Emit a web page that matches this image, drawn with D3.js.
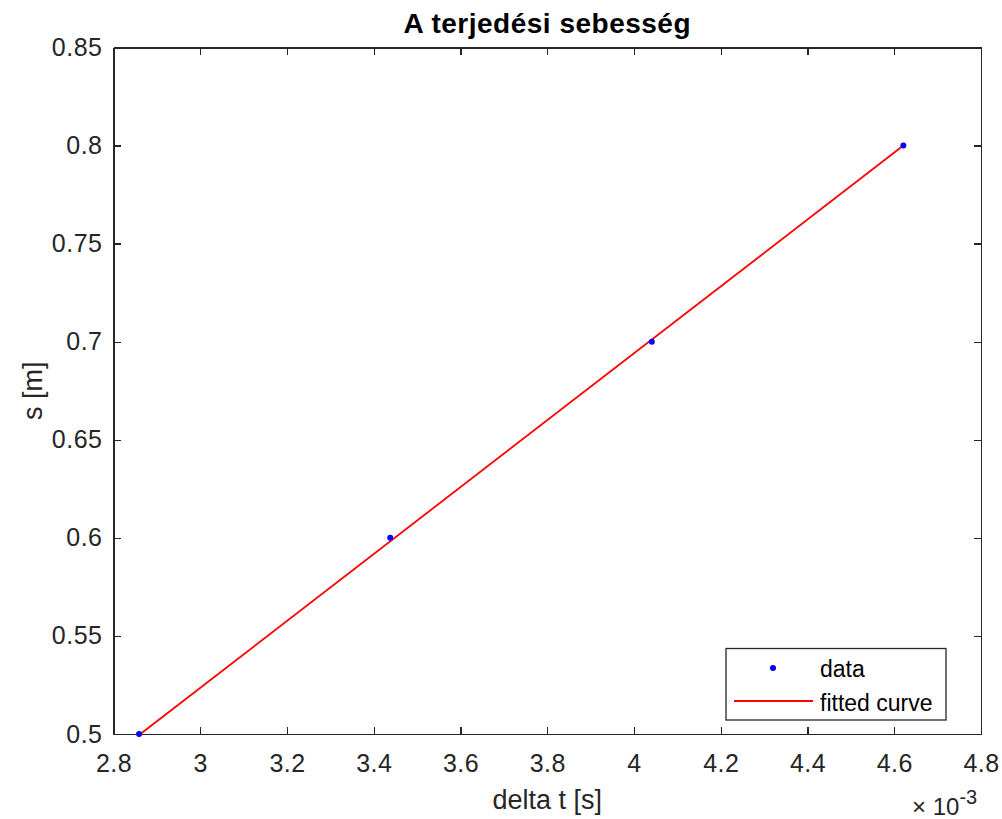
<!DOCTYPE html>
<html lang="hu">
<head>
<meta charset="utf-8">
<title>A terjedési sebesség</title>
<script src="https://cdn.jsdelivr.net/npm/d3@7"></script>
<style>
  body { margin: 0; background: #fff; }
  svg text { font-family: "Liberation Sans", Arial, sans-serif; fill: #262626; }
  .axis path, .axis line { stroke: #262626; shape-rendering: crispEdges; }
  .axis text { font-size: 25px; letter-spacing: 0.5px; }
</style>
</head>
<body>
<script>
// data (delta t in units of 1e-3 s)
var dataT = [2.859, 3.438, 4.041, 4.621];
var dataS = [0.5, 0.6, 0.7, 0.8];
// fitted line end points
var fitT = [2.859, 4.621];
var fitS = [0.4995, 0.8];

var xTicks = [2.8, 3, 3.2, 3.4, 3.6, 3.8, 4, 4.2, 4.4, 4.6, 4.8];
var yTicks = [0.5, 0.55, 0.6, 0.65, 0.7, 0.75, 0.8, 0.85];

var w = 1002, h = 819;
var m = {left: 113.5, right: 981, top: 47.5, bottom: 734};

var svg = d3.select("body").append("svg")
  .attr("width", w).attr("height", h);

var x = d3.scaleLinear().domain([2.8, 4.8]).range([m.left, m.right]);
var y = d3.scaleLinear().domain([0.5, 0.85]).range([m.bottom, m.top]);

var fmt = function(d) { return String(+d.toFixed(2)); };

// axes, inward ticks, box on
svg.append("g").attr("class", "axis")
  .attr("transform", "translate(0," + m.bottom + ")")
  .call(d3.axisBottom(x).tickValues(xTicks).tickSizeInner(-7).tickSizeOuter(0).tickPadding(20).tickFormat(fmt));
svg.append("g").attr("class", "axis")
  .attr("transform", "translate(0," + m.top + ")")
  .call(d3.axisTop(x).tickValues(xTicks).tickSizeInner(-7).tickSizeOuter(0).tickFormat(""));
svg.append("g").attr("class", "axis")
  .attr("transform", "translate(" + m.left + ",0)")
  .call(d3.axisLeft(y).tickValues(yTicks).tickSizeInner(-7).tickSizeOuter(0).tickPadding(11).tickFormat(fmt));
svg.append("g").attr("class", "axis")
  .attr("transform", "translate(" + m.right + ",0)")
  .call(d3.axisRight(y).tickValues(yTicks).tickSizeInner(-7).tickSizeOuter(0).tickFormat(""));
svg.selectAll(".axis path").attr("stroke-width", 1.3);
svg.selectAll(".axis line").attr("stroke-width", 1.3);

// fitted line
svg.append("path")
  .datum(fitT.map(function(t, i) { return [t, fitS[i]]; }))
  .attr("fill", "none").attr("stroke", "#ff0000").attr("stroke-width", 1.8)
  .attr("d", d3.line().x(function(d) { return x(d[0]); }).y(function(d) { return y(d[1]); }));

// data points
svg.selectAll("circle.pt")
  .data(dataT.map(function(t, i) { return [t, dataS[i]]; }))
  .enter().append("circle").attr("class", "pt")
  .attr("cx", function(d) { return x(d[0]); })
  .attr("cy", function(d) { return y(d[1]); })
  .attr("r", 3).attr("fill", "#0000ff");

// title and labels
var cx = (m.left + m.right) / 2;
svg.append("text").attr("x", cx).attr("y", 33).attr("text-anchor", "middle")
  .style("font-size", "28px").style("font-weight", "bold").style("letter-spacing", "0.5px").style("fill", "#000")
  .text("A terjedési sebesség");
svg.append("text").attr("x", cx).attr("y", 809).attr("text-anchor", "middle")
  .style("font-size", "27px").text("delta t [s]");
svg.append("text").attr("transform", "translate(42," + ((m.top + m.bottom) / 2) + ") rotate(-90)")
  .attr("text-anchor", "middle").style("font-size", "27px").text("s [m]");

// exponent
var ex = svg.append("text").attr("x", 912).attr("y", 815).style("font-size", "24px");
ex.append("tspan").text("\u00d7 10");
ex.append("tspan").attr("dy", -11).style("font-size", "20px").text("-3");

// legend
var lg = svg.append("g");
lg.append("rect").attr("x", 726).attr("y", 648.5).attr("width", 220).attr("height", 71.5)
  .attr("fill", "#fff").attr("stroke", "#262626").attr("stroke-width", 1.3);
lg.append("circle").attr("cx", 773).attr("cy", 668).attr("r", 3).attr("fill", "#0000ff");
lg.append("text").attr("x", 820).attr("y", 676.5).style("font-size", "23px").style("fill", "#000").text("data");
lg.append("line").attr("x1", 734).attr("x2", 813).attr("y1", 701).attr("y2", 701)
  .attr("stroke", "#ff0000").attr("stroke-width", 1.8);
lg.append("text").attr("x", 820).attr("y", 711).style("font-size", "23px").style("fill", "#000").text("fitted curve");
</script>
</body>
</html>
